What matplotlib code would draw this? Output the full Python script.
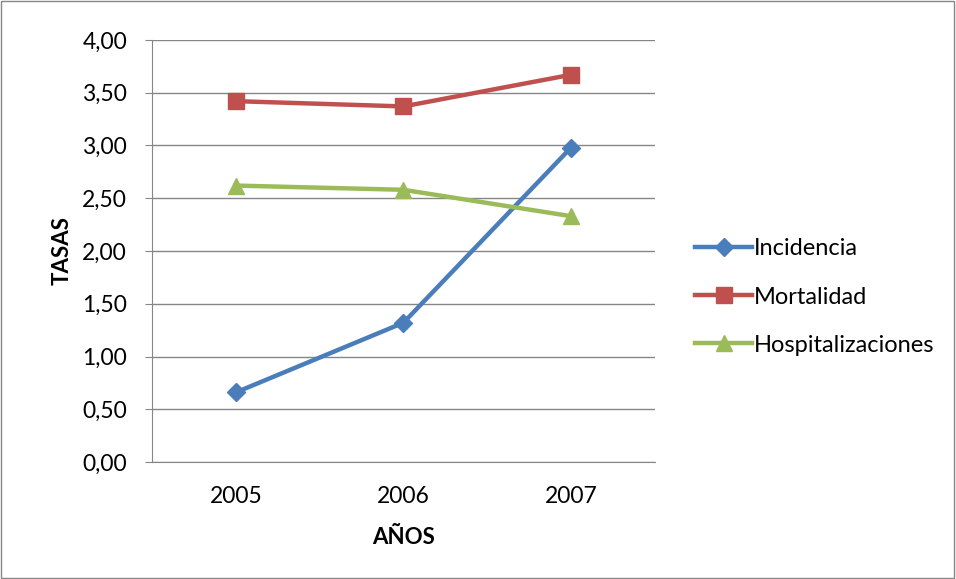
import numpy as np
import matplotlib.pyplot as plt
from matplotlib.patches import Rectangle

plt.rcParams['font.family'] = ['Lato', 'DejaVu Sans']

# Data
years = ["2005", "2006", "2007"]
incidencia = [0.66, 1.32, 2.98]
mortalidad = [3.42, 3.37, 3.67]
hospitalizaciones = [2.62, 2.58, 2.33]

fig = plt.figure(figsize=(9.56, 5.79), dpi=100)
ax = fig.add_axes([0.159, 0.202, 0.526, 0.729])

x = np.arange(len(years))
ax.plot(x, incidencia, color="#4A7EBB", lw=3.2, marker="D", ms=9, label="Incidencia")
ax.plot(x, mortalidad, color="#C0504D", lw=3.2, marker="s", ms=12, label="Mortalidad")
ax.plot(x, hospitalizaciones, color="#9BBB59", lw=3.2, marker="^", ms=12, label="Hospitalizaciones")

ax.set_xlim(-0.5, 2.5)
ax.set_ylim(0, 4)
ax.set_yticks(np.arange(0, 4.01, 0.5))
ax.set_yticklabels([f"{v:.2f}".replace(".", ",") for v in np.arange(0, 4.01, 0.5)])
ax.set_xticks(x)
ax.set_xticklabels(years)
ax.tick_params(axis="y", length=5, color="#868686", labelsize=16.5, pad=13)
ax.tick_params(axis="x", length=0, labelsize=16.5, pad=17)
ax.grid(axis="y", color="#868686", lw=1)
ax.set_axisbelow(True)
for s in ["top", "right"]:
    ax.spines[s].set_visible(False)
ax.spines["left"].set_color("#868686")
ax.spines["bottom"].set_color("#868686")

ax.set_xlabel("AÑOS", fontsize=16, fontweight="bold", labelpad=15)
ax.set_ylabel("TASAS", fontsize=16, fontweight="bold", labelpad=7)

fig.legend(loc="center left", bbox_to_anchor=(0.705, 0.487), frameon=False,
           fontsize=17, handlelength=2.4, handletextpad=0.1, labelspacing=1.15)

fig.patches.append(Rectangle((0.001, 0.002), 0.997, 0.996, transform=fig.transFigure,
                             fill=False, edgecolor="#868686", lw=1))

fig.savefig("out.png", dpi=100)
